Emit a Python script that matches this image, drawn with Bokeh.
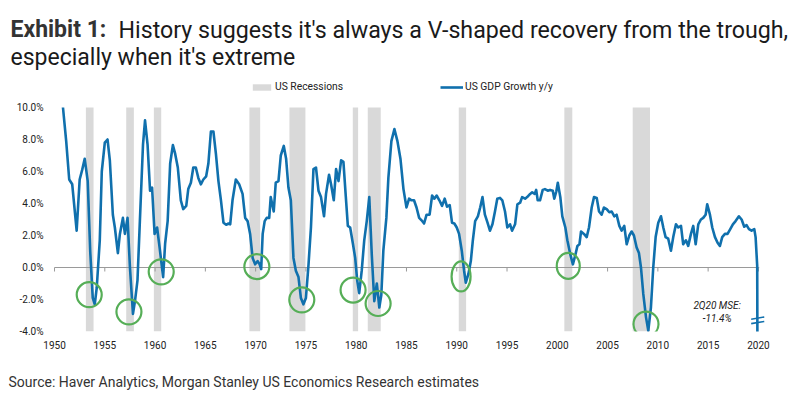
from bokeh.plotting import figure
from bokeh.layouts import column
from bokeh.models import (Label, Legend, LegendItem, FixedTicker, PrintfTickFormatter,
                          ColumnDataSource)
from bokeh.embed import file_html
from bokeh.resources import INLINE

# ---------------- data ----------------
years = [
    1950.84, 1951.16, 1951.46, 1951.76, 1952.20, 1952.50, 1952.75, 1953.00, 1953.30, 1953.55,
    1953.80, 1954.00, 1954.20, 1954.50, 1954.70, 1955.00, 1955.27, 1955.50, 1955.80, 1956.00,
    1956.30, 1956.50, 1956.80, 1957.00, 1957.26, 1957.50, 1957.80, 1958.00, 1958.25, 1958.50,
    1958.80, 1959.00, 1959.25, 1959.50, 1959.70, 1959.95, 1960.20, 1960.45, 1960.80, 1961.00,
    1961.25, 1961.50, 1961.77, 1962.00, 1962.26, 1962.56, 1962.80, 1963.10, 1963.30, 1963.56,
    1963.80, 1964.05, 1964.30, 1964.55, 1964.80, 1965.08, 1965.30, 1965.55, 1965.80, 1966.05,
    1966.30, 1966.55, 1966.80, 1967.07, 1967.30,
    1967.47, 1967.70, 1968.03, 1968.36, 1968.70, 1968.96, 1969.20, 1969.45, 1969.70, 1969.95,
    1970.20, 1970.40, 1970.55, 1970.70, 1970.90, 1971.10, 1971.35, 1971.50, 1971.80, 1972.00,
    1972.27, 1972.50, 1972.80, 1973.03, 1973.26, 1973.50, 1973.76, 1974.00, 1974.26, 1974.50,
    1974.75, 1975.00, 1975.26, 1975.50, 1975.75, 1976.00, 1976.25, 1976.50, 1976.80, 1977.00,
    1977.30, 1977.50, 1977.77, 1978.00, 1978.24, 1978.50, 1978.73, 1978.97, 1979.17, 1979.40,
    1979.67, 1979.90, 1980.10, 1980.30, 1980.55, 1980.80, 1981.05, 1981.30, 1981.55, 1981.80,
    1982.05, 1982.30, 1982.50, 1982.70, 1983.00, 1983.20, 1983.50, 1983.80, 1984.10, 1984.40,
    1984.70,
    1985.00, 1985.26, 1985.50, 1985.75, 1986.00, 1986.26, 1986.50, 1986.75, 1987.00, 1987.30,
    1987.55, 1987.77, 1988.00, 1988.27, 1988.54, 1988.80, 1989.03, 1989.30, 1989.53, 1989.76,
    1990.00, 1990.23, 1990.50, 1990.73, 1990.90, 1991.16, 1991.40, 1991.60, 1991.83, 1992.10,
    1992.33, 1992.56, 1992.80, 1993.06, 1993.30, 1993.55, 1993.80, 1994.03, 1994.30, 1994.53,
    1994.80, 1995.03, 1995.30, 1995.50, 1995.80, 1996.03, 1996.30, 1996.50, 1996.80, 1997.00,
    1997.30, 1997.50, 1997.75, 1997.90, 1998.05, 1998.28, 1998.55, 1998.77, 1999.05, 1999.28,
    1999.55, 1999.70, 1999.90, 2000.05, 2000.30, 2000.50, 2000.80, 2001.00, 2001.30, 2001.55,
    2001.80, 2002.00, 2002.20,
    2002.36, 2002.65, 2002.92, 2003.15, 2003.42, 2003.65, 2003.92, 2004.15, 2004.41, 2004.64,
    2004.91, 2005.17, 2005.41, 2005.67, 2005.90, 2006.17, 2006.40, 2006.66, 2006.90, 2007.16,
    2007.39, 2007.62, 2007.89, 2008.12, 2008.32, 2008.55, 2008.82, 2009.05, 2009.31, 2009.54,
    2009.78, 2010.04, 2010.31, 2010.54, 2010.77, 2011.03, 2011.30, 2011.53, 2011.80, 2012.03,
    2012.30, 2012.52, 2012.79, 2013.02, 2013.29, 2013.52, 2013.76, 2014.02, 2014.28, 2014.51,
    2014.75, 2014.91, 2015.18, 2015.41, 2015.68, 2015.94, 2016.17, 2016.40, 2016.67, 2016.93,
    2017.20, 2017.46, 2017.73, 2018.06, 2018.33, 2018.59, 2018.82, 2019.06, 2019.32, 2019.59,
    2019.72, 2019.88, 2019.93,
]
gdp_growth = [
    10.0, 7.9, 5.5, 5.2, 2.3, 5.5, 6.1, 6.8, 5.4, 1.0,
    -1.9, -2.3, -1.25, 1.7, 6.0, 7.8, 8.0, 6.7, 3.3, 2.5,
    0.9, 2.1, 3.1, 2.1, 3.1, 0.0, -2.9, -2.1, -0.8, 3.1,
    7.7, 9.2, 7.7, 4.8, 5.0, 2.1, 2.5, 1.25, -0.6, 1.5,
    2.9, 6.5, 7.65, 7.1, 6.25, 4.2, 3.65, 3.85, 4.9, 5.3,
    6.25, 6.25, 5.6, 5.2, 5.5, 5.7, 6.5, 8.5, 8.5, 7.1,
    5.4, 4.2, 2.8, 2.67, 2.75,
    2.7, 4.2, 5.5, 5.2, 4.6, 3.1, 2.9, 2.1, 0.6, 0.2,
    0.4, 0.2, -0.1, 2.1, 2.9, 3.1, 3.1, 4.4, 3.5, 5.3,
    5.4, 7.0, 7.6, 6.8, 5.0, 4.2, 0.6, -0.2, -0.6, -1.9,
    -2.3, -1.9, 0.2, 2.5, 6.15, 6.25, 4.8, 4.4, 3.2, 4.6,
    5.8, 5.2, 4.2, 6.15, 5.4, 6.7, 6.6, 4.4, 2.6, 2.5,
    1.5, 0.6, -0.8, -1.6, -0.2, 1.7, 2.9, 4.4, 0.8, -2.1,
    -1.0, -2.5, -1.7, 1.05, 3.1, 5.6, 7.9, 8.65, 7.9, 6.8,
    4.9,
    3.75, 4.3, 4.2, 4.2, 3.75, 3.1, 2.95, 2.75, 3.3, 3.3,
    4.5, 4.3, 4.5, 4.2, 3.85, 4.3, 3.8, 3.9, 2.8, 2.75,
    2.5, 2.1, 1.05, -0.2, -0.95, -0.4, 0.4, 1.7, 2.9, 3.2,
    3.75, 4.4, 3.3, 2.8, 2.3, 2.7, 3.5, 4.3, 4.35, 4.2,
    3.5, 2.5, 2.7, 2.3, 2.7, 3.95, 4.05, 4.4, 4.3, 4.4,
    4.6, 4.7, 4.6, 4.85, 4.2, 4.2, 4.85, 4.9, 4.8, 4.85,
    4.8, 4.3, 4.75, 5.3, 4.4, 3.2, 2.5, 1.7, 0.8, 0.2,
    0.8, 1.35, 1.45,
    2.25, 2.1, 1.9, 2.5, 3.75, 4.4, 4.35, 3.5, 3.3, 3.75,
    3.65, 3.45, 3.5, 3.2, 3.3, 2.6, 2.3, 2.6, 1.45, 2.0,
    2.25, 2.0, 1.25, 0.9, 0.0, -1.65, -3.1, -3.95, -2.5, 0.0,
    1.9, 2.8, 3.2, 2.5, 1.9, 1.8, 1.05, 1.9, 2.7, 2.5,
    2.6, 1.45, 1.7, 1.35, 2.1, 2.6, 1.45, 2.7, 3.0, 3.1,
    3.3, 3.95, 3.3, 2.5, 1.9, 1.55, 1.35, 1.9, 2.1, 2.1,
    2.4, 2.7, 2.9, 3.2, 3.0, 2.55, 2.65, 2.4, 2.3, 2.4,
    1.9, 0.1, -11.4,
]

rec_start = [1953.12, 1957.13, 1959.88, 1969.38, 1973.36, 1979.66, 1981.15, 1990.20, 2000.70, 2007.50]
rec_end = [1953.88, 1957.89, 1960.61, 1970.45, 1974.95, 1980.19, 1982.44, 1990.93, 2001.49, 2009.22]

trough_x = [1953.45, 1957.40, 1960.61, 1970.12, 1974.59, 1979.69, 1982.18, 1990.43, 2001.09, 2008.82]
trough_y = [-1.70, -2.77, -0.27, 0.06, -2.02, -1.41, -2.25, -0.56, 0.10, -3.54]

x_ticks = [1950, 1955, 1960, 1965, 1970, 1975, 1980, 1985, 1990, 1995, 2000, 2005, 2010, 2015, 2020]
y_ticks = [-4, -2, 0, 2, 4, 6, 8, 10]

title_bold = "Exhibit 1:"
title_rest = "History suggests it's always a V-shaped recovery from the trough,"
title_line2 = "especially when it's extreme"
source_text = "Source: Haver Analytics, Morgan Stanley US Economics Research estimates"
mse_label = "2Q20 MSE:"

# ---------------- layout / styles ----------------
W = 792
HEAD_H = 76          # title strip
MAIN_H = 280         # chart (frame from y=76 to y=331 on the page)
FOOT_H = 36          # source strip
Y_MIN, Y_MAX = -4, 10
Y_TOP = Y_MAX + (107 - HEAD_H) / 16    # frame reaches up to the title strip, legend lives inside
BLUE = "#1070ad"
GREEN = "#56ae57"
REC_GRAY = "#d9d9d9"
TXT = "#222222"
FONT = "Roboto"
circle_w = [25, 25, 25, 25, 25, 25, 25, 19, 23, 25]
circle_h = [25, 25, 25, 25, 25, 25, 25, 30, 26, 25]


def strip(height):
    f = figure(width=W, height=height, x_range=(0, W), y_range=(0, height),
               output_backend="svg", toolbar_location=None, title=None,
               x_axis_location=None, y_axis_location=None, frame_align=False,
               min_border_left=0, min_border_right=0, min_border_top=0, min_border_bottom=0)
    f.outline_line_color = None
    f.grid.visible = False
    f.background_fill_color = "white"
    f.border_fill_color = "white"
    return f


def scr_label(text, x, y, size, style="normal", color="#1a1a1a"):
    return Label(x=x, y=y, x_units="screen", y_units="screen", text=text, text_font=FONT,
                 text_font_size=size, text_font_style=style, text_color=color,
                 text_align="left", text_baseline="alphabetic")


# ---- title strip ----
head = strip(HEAD_H)
head.add_layout(scr_label(title_bold, 10, HEAD_H - 29, "23px", "bold", "#333333"))
head.add_layout(scr_label(title_rest, 118, HEAD_H - 29, "23.2px"))
head.add_layout(scr_label(title_line2, 10, HEAD_H - 57, "23px"))

# ---- main chart ----
p = figure(width=W, height=MAIN_H, x_range=(1949.5, 2021.5), y_range=(Y_MIN, Y_TOP),
           output_backend="svg", toolbar_location=None, title=None, frame_align=False,
           min_border_left=49, min_border_right=19, min_border_top=0, min_border_bottom=25)
p.outline_line_color = None
p.xgrid.visible = False
p.ygrid.visible = False
p.background_fill_color = "white"
p.border_fill_color = "white"

rec_src = ColumnDataSource(dict(left=rec_start, right=rec_end))
rec = p.quad(left="left", right="right", bottom=Y_MIN, top=Y_MAX, source=rec_src,
             fill_color=REC_GRAY, line_color=None)

zero_end = years[-1] + 0.15
p.segment(x0=[x_ticks[0]], x1=[zero_end], y0=[0], y1=[0], line_color="#9a9a9a", line_width=1)
tick_len = 0.25
p.segment(x0=x_ticks, x1=x_ticks, y0=[0] * len(x_ticks), y1=[-tick_len] * len(x_ticks),
          line_color="#9a9a9a", line_width=1)

ln = p.line(years, gdp_growth, line_color=BLUE, line_width=2.6, line_join="round")

bx = years[-1]
for off in (0.84, 0.56):
    yb = Y_MIN + off
    p.segment(x0=[bx - 0.65], x1=[bx + 0.65], y0=[yb - 0.07], y1=[yb + 0.07],
              line_color=BLUE, line_width=1.6)

p.ellipse(x=trough_x, y=trough_y, width=circle_w, height=circle_h,
          width_units="screen", height_units="screen",
          fill_color=None, line_color=GREEN, line_width=2.2)

p.xaxis.ticker = FixedTicker(ticks=x_ticks)
p.yaxis.ticker = FixedTicker(ticks=y_ticks)
p.yaxis.formatter = PrintfTickFormatter(format="%.1f%%")
for ax in (p.xaxis[0], p.yaxis[0]):
    ax.axis_line_color = None
    ax.major_tick_line_color = None
    ax.minor_tick_line_color = None
    ax.major_tick_out = 0
    ax.major_tick_in = 0
    ax.major_label_text_font = FONT
    ax.major_label_text_font_size = "10px"
    ax.major_label_text_color = TXT
p.xaxis.major_label_standoff = 9
p.yaxis.major_label_standoff = 6

legend = Legend(items=[LegendItem(label="US Recessions", renderers=[rec]),
                       LegendItem(label="US GDP Growth y/y", renderers=[ln])],
                location=(201, 238), orientation="horizontal",
                glyph_width=23, glyph_height=8, label_height=10, label_standoff=2,
                spacing=97, padding=0, margin=0,
                border_line_color=None, background_fill_alpha=0,
                label_text_font=FONT, label_text_font_size="10.3px", label_text_color=TXT)
p.add_layout(legend)

last_val = gdp_growth[-1]
p.add_layout(Label(x=2015.9, y=-2.39, text=mse_label, text_font=FONT, text_font_size="10px",
                   text_font_style="italic", text_align="center", text_baseline="middle",
                   text_color=TXT))
p.add_layout(Label(x=2015.9, y=-3.19, text=f"{last_val:.1f}%", text_font=FONT, text_font_size="10px",
                   text_font_style="italic", text_align="center", text_baseline="middle",
                   text_color=TXT))

# ---- source strip ----
foot = strip(FOOT_H)
foot.add_layout(scr_label(source_text, 8, 11, "14px", "normal", "#333333"))

layout = column(head, p, foot, spacing=0)
open("out.html", "w").write(file_html(layout, INLINE))
